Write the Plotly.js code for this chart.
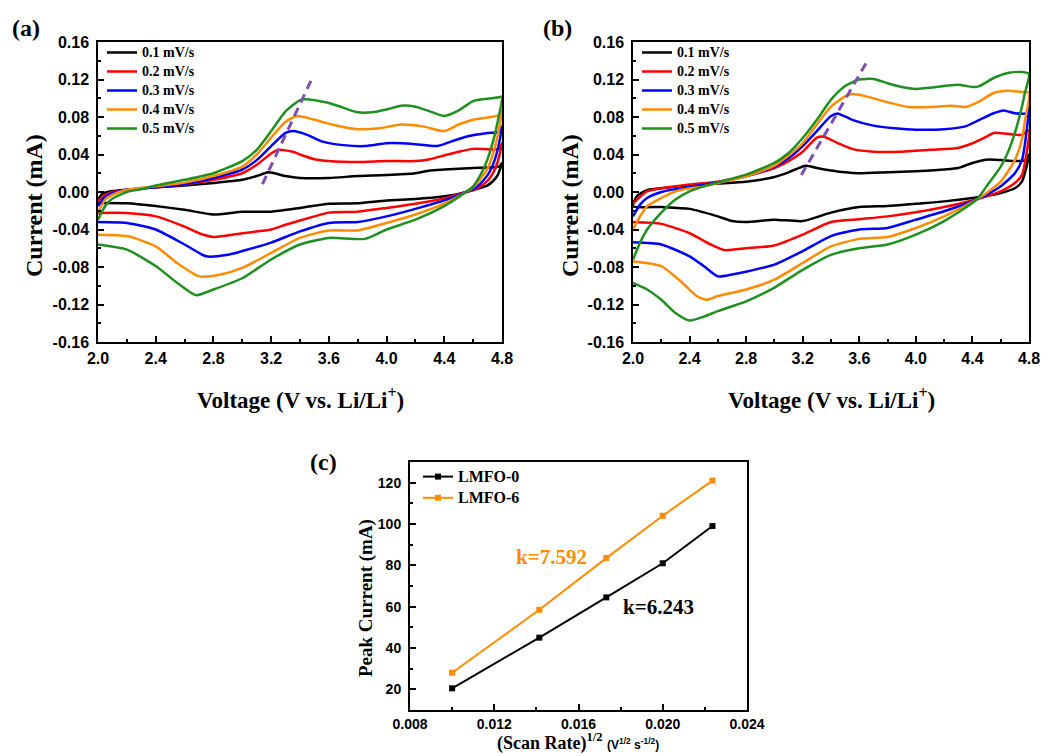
<!DOCTYPE html>
<html>
<head>
<meta charset="utf-8">
<script src="https://cdn.plot.ly/plotly-3.0.1.min.js"></script>
<style>html,body{margin:0;padding:0;background:#fff;}#chart{width:1056px;height:756px;}</style>
</head>
<body>
<div id="chart"></div>
<script>
// ---------- Data ----------
const seriesNames = ['0.1 mV/s', '0.2 mV/s', '0.3 mV/s', '0.4 mV/s', '0.5 mV/s'];

// Panel (a): LMFO-0 CV loops (anodic sweep 2.0->4.8 V then cathodic 4.8->2.0 V)
const aV1 = [2.0,2.03,2.1,2.2,2.4,2.6,2.8,3.0,3.1,3.18,3.3,3.4,3.6,3.8,4.0,4.2,4.3,4.4,4.6,4.7,4.78,4.8,4.77,4.74,4.7,4.6,4.55,4.5,4.4,4.2,4.0,3.8,3.6,3.4,3.2,3.0,2.8,2.6,2.4,2.2,2.0];
const aI1 = [-0.008,-0.002,0.001,0.0025,0.005,0.007,0.0096,0.013,0.017,0.021,0.017,0.015,0.015,0.017,0.018,0.020,0.023,0.024,0.0256,0.026,0.027,0.031,0.018,0.012,0.007,0.002,0.0,-0.002,-0.0046,-0.0075,-0.009,-0.012,-0.0125,-0.017,-0.021,-0.021,-0.024,-0.019,-0.015,-0.012,-0.0117];
const aV2 = [2.0,2.05,2.1,2.2,2.4,2.6,2.8,3.0,3.1,3.2,3.25,3.35,3.4,3.5,3.6,3.8,4.0,4.2,4.3,4.4,4.5,4.6,4.78,4.8,4.77,4.74,4.7,4.65,4.6,4.55,4.4,4.2,4.0,3.8,3.6,3.5,3.3,3.2,3.0,2.8,2.7,2.6,2.4,2.2,2.0];
const aI2 = [-0.01,-0.003,0.0,0.0025,0.005,0.008,0.013,0.020,0.029,0.041,0.045,0.043,0.040,0.035,0.033,0.032,0.033,0.033,0.035,0.039,0.043,0.046,0.046,0.052,0.032,0.021,0.012,0.006,0.002,0.0,-0.007,-0.0125,-0.017,-0.021,-0.022,-0.026,-0.035,-0.040,-0.044,-0.048,-0.044,-0.037,-0.026,-0.0224,-0.0224];
const aV3 = [2.0,2.05,2.1,2.2,2.4,2.6,2.8,3.0,3.1,3.2,3.3,3.35,3.45,3.55,3.7,3.85,4.0,4.1,4.2,4.35,4.45,4.55,4.7,4.78,4.8,4.77,4.74,4.7,4.65,4.6,4.55,4.4,4.2,4.0,3.8,3.6,3.4,3.2,3.0,2.9,2.75,2.6,2.4,2.2,2.0];
const aI3 = [-0.015,-0.005,-0.001,0.0025,0.005,0.0085,0.015,0.024,0.034,0.049,0.063,0.065,0.061,0.054,0.050,0.049,0.052,0.052,0.051,0.049,0.054,0.059,0.063,0.064,0.07,0.045,0.03,0.018,0.009,0.003,0.0,-0.009,-0.018,-0.026,-0.032,-0.033,-0.042,-0.054,-0.063,-0.067,-0.0686,-0.056,-0.040,-0.033,-0.032];
const aV4 = [2.0,2.05,2.1,2.2,2.4,2.6,2.8,3.0,3.1,3.2,3.3,3.38,3.5,3.65,3.8,3.95,4.1,4.25,4.4,4.5,4.6,4.78,4.8,4.77,4.74,4.7,4.65,4.6,4.55,4.4,4.2,4.0,3.8,3.6,3.4,3.2,3.0,2.85,2.7,2.55,2.4,2.2,2.0];
const aI4 = [-0.022,-0.008,-0.003,0.0025,0.006,0.010,0.017,0.027,0.040,0.058,0.075,0.081,0.077,0.071,0.067,0.068,0.072,0.070,0.065,0.072,0.077,0.082,0.088,0.06,0.042,0.025,0.014,0.005,0.0,-0.0125,-0.024,-0.033,-0.041,-0.041,-0.049,-0.065,-0.081,-0.088,-0.09,-0.076,-0.058,-0.047,-0.0455];
const aV5 = [2.0,2.05,2.1,2.2,2.3,2.4,2.6,2.8,3.0,3.1,3.2,3.3,3.4,3.45,3.6,3.7,3.8,3.9,4.0,4.1,4.2,4.3,4.4,4.5,4.6,4.7,4.78,4.8,4.77,4.74,4.7,4.67,4.6,4.55,4.4,4.2,4.0,3.85,3.6,3.4,3.2,3.0,2.8,2.68,2.55,2.4,2.2,2.0];
const aI5 = [-0.0295,-0.015,-0.007,0.0,0.003,0.007,0.013,0.020,0.033,0.045,0.065,0.086,0.098,0.099,0.095,0.090,0.085,0.085,0.088,0.092,0.091,0.086,0.081,0.087,0.097,0.0995,0.101,0.102,0.075,0.055,0.035,0.024,0.006,0.0,-0.015,-0.0295,-0.040,-0.050,-0.049,-0.056,-0.072,-0.092,-0.104,-0.11,-0.097,-0.079,-0.0615,-0.056];

// Panel (b): LMFO-6 CV loops
const bV1 = [2.0,2.03,2.1,2.2,2.4,2.6,2.8,3.0,3.1,3.22,3.3,3.4,3.5,3.6,3.8,4.0,4.2,4.3,4.4,4.5,4.6,4.7,4.78,4.8,4.77,4.75,4.7,4.6,4.5,4.4,4.2,4.0,3.8,3.6,3.4,3.2,3.0,2.8,2.7,2.6,2.4,2.2,2.0];
const bI1 = [-0.015,-0.004,0.002,0.004,0.007,0.009,0.011,0.016,0.021,0.028,0.0256,0.023,0.021,0.020,0.021,0.022,0.024,0.0256,0.031,0.0345,0.034,0.033,0.034,0.04,0.02,0.011,0.004,-0.001,-0.004,-0.0064,-0.010,-0.0125,-0.015,-0.016,-0.022,-0.031,-0.0295,-0.032,-0.031,-0.026,-0.018,-0.016,-0.015];
const bV2 = [2.0,2.05,2.1,2.2,2.4,2.6,2.8,3.0,3.1,3.2,3.3,3.35,3.45,3.55,3.7,3.9,4.1,4.3,4.4,4.5,4.55,4.65,4.75,4.8,4.77,4.75,4.7,4.6,4.5,4.4,4.2,4.0,3.8,3.6,3.4,3.2,3.0,2.8,2.65,2.55,2.4,2.2,2.0];
const bI2 = [-0.0125,-0.005,0.0007,0.004,0.008,0.011,0.017,0.0256,0.033,0.043,0.058,0.059,0.052,0.046,0.043,0.043,0.045,0.047,0.052,0.059,0.063,0.062,0.061,0.066,0.03,0.018,0.0096,0.0007,-0.0046,-0.009,-0.016,-0.0217,-0.026,-0.029,-0.032,-0.0455,-0.057,-0.060,-0.062,-0.056,-0.044,-0.034,-0.032];
const bV3 = [2.0,2.05,2.1,2.2,2.3,2.4,2.6,2.8,3.0,3.1,3.2,3.3,3.4,3.45,3.55,3.7,3.85,4.0,4.2,4.35,4.45,4.55,4.62,4.7,4.78,4.8,4.77,4.75,4.7,4.6,4.5,4.43,4.2,4.0,3.8,3.6,3.4,3.2,3.0,2.8,2.7,2.6,2.5,2.4,2.2,2.0];
const bI3 = [-0.026,-0.0135,-0.0064,0.0,0.003,0.0053,0.0103,0.0167,0.027,0.036,0.049,0.065,0.081,0.0836,0.077,0.0708,0.068,0.0665,0.067,0.070,0.077,0.084,0.087,0.084,0.084,0.091,0.05,0.034,0.020,0.006,-0.003,-0.008,-0.0206,-0.0295,-0.0384,-0.040,-0.047,-0.063,-0.0775,-0.085,-0.088,-0.09,-0.079,-0.0686,-0.056,-0.0537];
const bV4 = [2.0,2.05,2.1,2.2,2.3,2.4,2.5,2.6,2.8,3.0,3.1,3.2,3.3,3.4,3.5,3.55,3.65,3.8,3.95,4.1,4.25,4.35,4.45,4.55,4.65,4.75,4.8,4.77,4.75,4.7,4.6,4.5,4.43,4.2,4.0,3.8,3.6,3.4,3.2,3.0,2.8,2.6,2.52,2.45,2.35,2.2,2.0];
const bI4 = [-0.040,-0.026,-0.015,-0.0064,0.0007,0.004,0.006,0.0096,0.0167,0.028,0.039,0.052,0.072,0.091,0.102,0.1045,0.102,0.0957,0.0907,0.0907,0.092,0.0907,0.0967,0.1056,0.108,0.1067,0.106,0.075,0.056,0.034,0.011,-0.001,-0.008,-0.026,-0.0384,-0.048,-0.050,-0.058,-0.0757,-0.0935,-0.104,-0.111,-0.115,-0.111,-0.097,-0.079,-0.074];
const bV5 = [2.0,2.05,2.1,2.2,2.3,2.4,2.5,2.6,2.8,3.0,3.1,3.2,3.3,3.4,3.5,3.6,3.7,3.8,3.9,4.0,4.2,4.3,4.4,4.45,4.55,4.65,4.75,4.8,4.77,4.75,4.7,4.65,4.6,4.5,4.43,4.2,4.0,3.8,3.6,3.4,3.2,3.0,2.8,2.6,2.5,2.4,2.3,2.2,2.1,2.0];
const bI5 = [-0.072,-0.054,-0.040,-0.022,-0.008,0.0007,0.006,0.0103,0.0185,0.031,0.0416,0.0576,0.077,0.0985,0.113,0.12,0.1205,0.116,0.112,0.11,0.113,0.1145,0.112,0.113,0.1216,0.127,0.128,0.126,0.105,0.091,0.063,0.042,0.027,0.006,-0.008,-0.031,-0.0455,-0.056,-0.06,-0.067,-0.083,-0.102,-0.1166,-0.127,-0.133,-0.137,-0.129,-0.115,-0.104,-0.097];

// Peak-shift guide lines (dashed)
const aGuideV = [3.14, 3.48];
const aGuideI = [0.0085, 0.12];
const bGuideV = [3.19, 3.65];
const bGuideI = [0.018, 0.138];

// Panel (c): peak current vs sqrt(scan rate)
const scanRateSqrt = [0.01, 0.01414, 0.01732, 0.02, 0.02236];
const lmfo0Peak = [20.5, 45, 64.5, 81, 99];
const lmfo6Peak = [28, 58.5, 83.5, 104, 121];
const cNames = ['LMFO-0', 'LMFO-6'];

// Tick labels
const voltTicks = [2.0, 2.4, 2.8, 3.2, 3.6, 4.0, 4.4, 4.8];
const voltTickText = ['2.0', '2.4', '2.8', '3.2', '3.6', '4.0', '4.4', '4.8'];
const currTicks = [-0.16, -0.12, -0.08, -0.04, 0, 0.04, 0.08, 0.12, 0.16];
const currTickText = ['-0.16', '-0.12', '-0.08', '-0.04', '0.00', '0.04', '0.08', '0.12', '0.16'];
const rateTicks = [0.008, 0.012, 0.016, 0.020, 0.024];
const rateTickText = ['0.008', '0.012', '0.016', '0.020', '0.024'];
const peakTicks = [20, 40, 60, 80, 100, 120];
const peakTickText = ['20', '40', '60', '80', '100', '120'];

// ---------- Styling ----------
const colors = ['#000000', '#ff0000', '#0000ff', '#ff8c00', '#1f8f1f'];
const guideColor = '#7e4fb3';
const serif = 'Liberation Serif, Times New Roman, serif';
const sans = 'Liberation Sans, Arial, sans-serif';

const aV = [aV1, aV2, aV3, aV4, aV5], aI = [aI1, aI2, aI3, aI4, aI5];
const bV = [bV1, bV2, bV3, bV4, bV5], bI = [bI1, bI2, bI3, bI4, bI5];

// legend labels are drawn a little larger than the legend's nominal font, so rows stay tight
const cvLabel = s => "<span style='font-size:14px'>" + s + "</span>";
const cLabel = s => "<span style='font-size:16px'>" + s + "</span>";

const traces = [];
for (let k = 0; k < 5; k++) {
  traces.push({x: aV[k], y: aI[k], type: 'scatter', mode: 'lines', name: cvLabel(seriesNames[k]),
    xaxis: 'x', yaxis: 'y', legend: 'legend',
    line: {color: colors[k], width: 2.5, shape: 'spline', smoothing: 0.6}});
}
traces.push({x: aGuideV, y: aGuideI, type: 'scatter', mode: 'lines', showlegend: false,
  xaxis: 'x', yaxis: 'y', line: {color: guideColor, width: 3, dash: '9px,6px'}});
for (let k = 0; k < 5; k++) {
  traces.push({x: bV[k], y: bI[k], type: 'scatter', mode: 'lines', name: cvLabel(seriesNames[k]),
    xaxis: 'x2', yaxis: 'y2', legend: 'legend2',
    line: {color: colors[k], width: 2.5, shape: 'spline', smoothing: 0.6}});
}
traces.push({x: bGuideV, y: bGuideI, type: 'scatter', mode: 'lines', showlegend: false,
  xaxis: 'x2', yaxis: 'y2', line: {color: guideColor, width: 3, dash: '9px,6px'}});
traces.push({x: scanRateSqrt, y: lmfo0Peak, type: 'scatter', mode: 'lines+markers', name: cLabel(cNames[0]),
  xaxis: 'x3', yaxis: 'y3', legend: 'legend3',
  line: {color: '#000000', width: 2}, marker: {symbol: 'square', size: 6, color: '#000000'}});
traces.push({x: scanRateSqrt, y: lmfo6Peak, type: 'scatter', mode: 'lines+markers', name: cLabel(cNames[1]),
  xaxis: 'x3', yaxis: 'y3', legend: 'legend3',
  line: {color: '#ff8c00', width: 2}, marker: {symbol: 'square', size: 6, color: '#ff8c00'}});

function axisBase(fontSize, lw, standoff) {
  return {
    showline: true, mirror: true, linecolor: '#000', linewidth: lw,
    ticks: 'inside', ticklen: 6, tickwidth: 1.5, tickcolor: '#000',
    showgrid: false, zeroline: false, fixedrange: true,
    ticklabelstandoff: standoff,
    tickfont: {family: sans, size: fontSize, weight: 'bold', color: '#000'}
  };
}

const xa = Object.assign(axisBase(16, 1.5, 1), {range: [2.0, 4.8], tickmode: 'array', tickvals: voltTicks, ticktext: voltTickText,
  minor: {ticks: 'inside', ticklen: 3, tickwidth: 1.5, tickcolor: '#000', dtick: 0.2, tick0: 2.0}});
const ya = Object.assign(axisBase(16, 1.5, 4), {range: [-0.16, 0.16], tickmode: 'array', tickvals: currTicks, ticktext: currTickText,
  minor: {ticks: 'inside', ticklen: 3, tickwidth: 1.5, tickcolor: '#000', dtick: 0.02, tick0: 0}});
const xc = Object.assign(axisBase(14, 2, 0), {range: [0.008, 0.024], tickmode: 'array', tickvals: rateTicks, ticktext: rateTickText,
  minor: {ticks: 'inside', ticklen: 3, tickwidth: 1.5, tickcolor: '#000', dtick: 0.002, tick0: 0.008}});
const yc = Object.assign(axisBase(14, 2, 4), {range: [10, 130], tickmode: 'array', tickvals: peakTicks, ticktext: peakTickText,
  minor: {ticks: 'inside', ticklen: 3, tickwidth: 1.5, tickcolor: '#000', dtick: 10, tick0: 0}});

const W = 1056, H = 756;
const px = v => v / W, py = v => 1 - v / H;

const legendBase = {xanchor: 'left', yanchor: 'top', bgcolor: 'rgba(0,0,0,0)', borderwidth: 0,
  tracegroupgap: 0, itemclick: false, itemdoubleclick: false};

const layout = {
  width: W, height: H, margin: {l: 0, r: 0, t: 0, b: 0},
  paper_bgcolor: '#fff', plot_bgcolor: '#fff', showlegend: true,
  xaxis: Object.assign({}, xa, {domain: [px(98), px(502)], anchor: 'y'}),
  yaxis: Object.assign({}, ya, {domain: [py(342), py(42)], anchor: 'x'}),
  xaxis2: Object.assign({}, xa, {domain: [px(633), px(1029)], anchor: 'y2'}),
  yaxis2: Object.assign({}, ya, {domain: [py(342), py(42)], anchor: 'x2'}),
  xaxis3: Object.assign({}, xc, {domain: [px(410), px(747)], anchor: 'y3'}),
  yaxis3: Object.assign({}, yc, {domain: [py(710), py(462)], anchor: 'x3'}),
  legend: Object.assign({}, legendBase, {x: px(102), y: py(38), font: {family: serif, size: 12, weight: 'bold', color: '#000'}}),
  legend2: Object.assign({}, legendBase, {x: px(637), y: py(38), font: {family: serif, size: 12, weight: 'bold', color: '#000'}}),
  legend3: Object.assign({}, legendBase, {x: px(418), y: py(461), font: {family: serif, size: 14, weight: 'bold', color: '#000'}}),
  annotations: [
    {text: '(a)', xref: 'paper', yref: 'paper', x: px(26), y: py(28), xanchor: 'center', yanchor: 'middle', showarrow: false,
      font: {family: serif, size: 24, weight: 'bold', color: '#000'}},
    {text: '(b)', xref: 'paper', yref: 'paper', x: px(557), y: py(28), xanchor: 'center', yanchor: 'middle', showarrow: false,
      font: {family: serif, size: 24, weight: 'bold', color: '#000'}},
    {text: '(c)', xref: 'paper', yref: 'paper', x: px(323), y: py(462), xanchor: 'center', yanchor: 'middle', showarrow: false,
      font: {family: serif, size: 24, weight: 'bold', color: '#000'}},
    {text: 'Current (mA)', xref: 'paper', yref: 'paper', x: px(34), y: py(206), textangle: -90, xanchor: 'center', yanchor: 'middle', showarrow: false,
      font: {family: serif, size: 24, weight: 'bold', color: '#000'}},
    {text: 'Current (mA)', xref: 'paper', yref: 'paper', x: px(570), y: py(206), textangle: -90, xanchor: 'center', yanchor: 'middle', showarrow: false,
      font: {family: serif, size: 24, weight: 'bold', color: '#000'}},
    {text: 'Voltage (V vs. Li/Li<sup>+</sup>)', xref: 'paper', yref: 'paper', x: px(300), y: py(398), xanchor: 'center', yanchor: 'middle', showarrow: false,
      font: {family: serif, size: 23, weight: 'bold', color: '#000'}},
    {text: 'Voltage (V vs. Li/Li<sup>+</sup>)', xref: 'paper', yref: 'paper', x: px(831), y: py(398), xanchor: 'center', yanchor: 'middle', showarrow: false,
      font: {family: serif, size: 23, weight: 'bold', color: '#000'}},
    {text: 'Peak Current (mA)', xref: 'paper', yref: 'paper', x: px(366), y: py(598), textangle: -90, xanchor: 'center', yanchor: 'middle', showarrow: false,
      font: {family: serif, size: 19, weight: 'bold', color: '#000'}},
    {text: "(Scan Rate)<sup>1/2</sup> <span style='font-family:Liberation Sans, Arial;font-size:12px'>(V<sup>1/2</sup> s<sup>-1/2</sup>)</span>",
      xref: 'paper', yref: 'paper', x: px(578), y: 0, xanchor: 'center', yanchor: 'bottom', showarrow: false,
      font: {family: serif, size: 18, weight: 'bold', color: '#000'}},
    {text: 'k=7.592', xref: 'x3', yref: 'y3', x: 0.01474, y: 83.8, xanchor: 'center', yanchor: 'middle', showarrow: false,
      font: {family: serif, size: 21, weight: 'bold', color: '#ff8c00'}},
    {text: 'k=6.243', xref: 'x3', yref: 'y3', x: 0.01978, y: 59.6, xanchor: 'center', yanchor: 'middle', showarrow: false,
      font: {family: serif, size: 21, weight: 'bold', color: '#000'}}
  ]
};

Plotly.newPlot('chart', traces, layout, {displayModeBar: false, responsive: false});
</script>
</body>
</html>
